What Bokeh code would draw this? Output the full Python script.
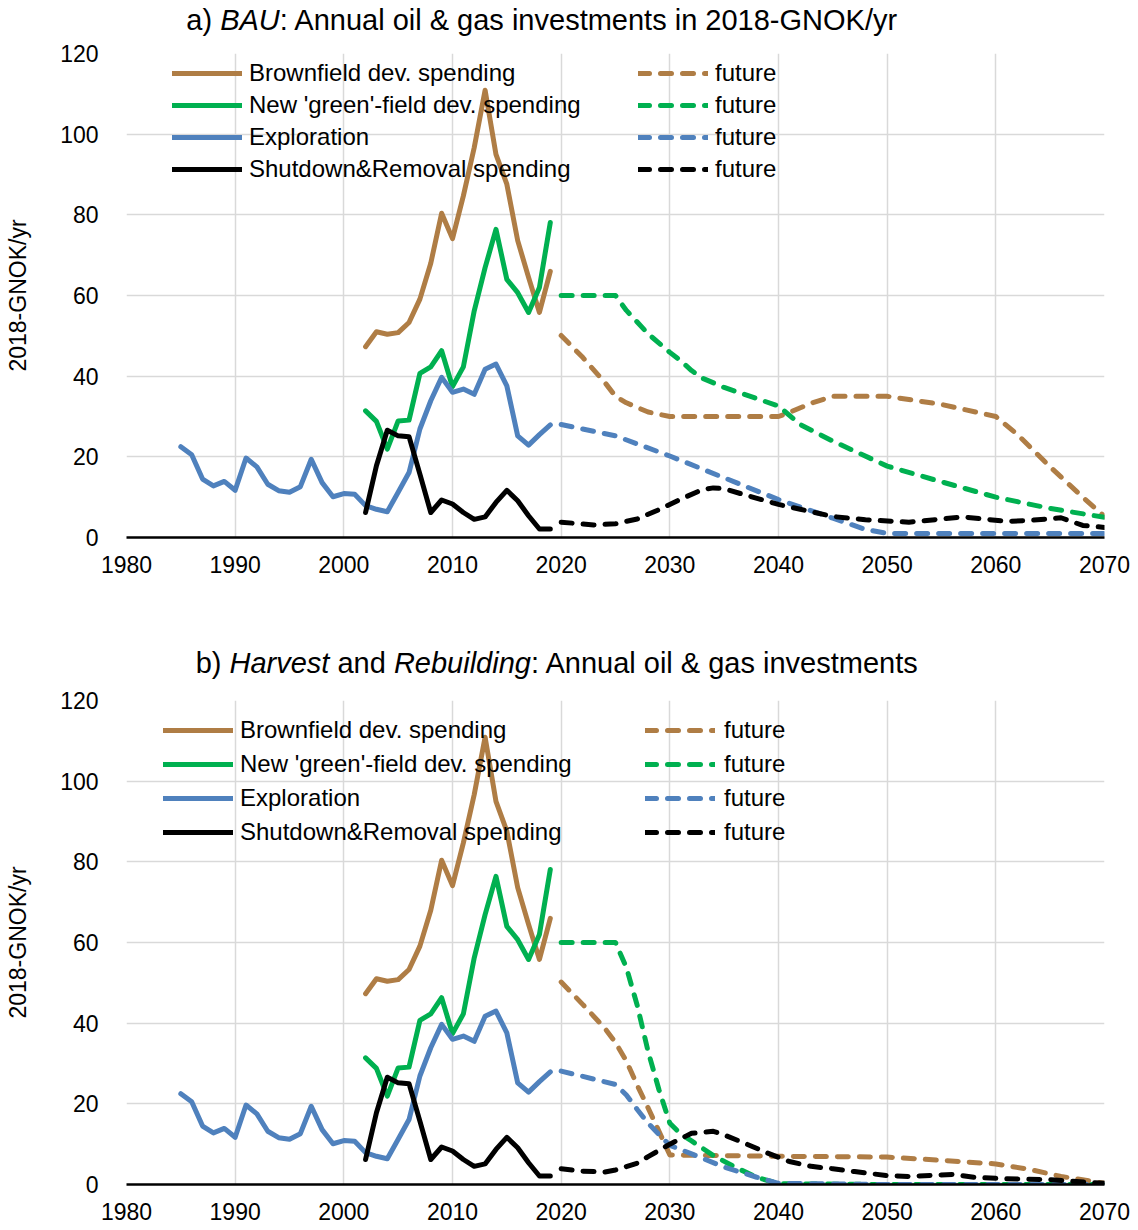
from bokeh.plotting import figure
from bokeh.models import Legend, LegendItem, Label, FixedTicker, Range1d
from bokeh.layouts import column
from bokeh.embed import file_html
from bokeh.resources import INLINE

# ---------------- data ----------------
expl_years = list(range(1985, 2020))
expl_vals = [22.5, 20.5, 14.5, 12.8, 13.9, 11.7, 19.7, 17.5, 13.2, 11.6, 11.2, 12.6,
             19.4, 13.6, 10.1, 10.9, 10.7, 7.9, 7.0, 6.4, 11.2, 16.1, 26.9, 33.9,
             39.7, 36.0, 36.8, 35.5, 41.7, 43.0, 37.6, 25.2, 22.9, 25.5, 27.9]

dev_years = list(range(2002, 2020))
brown_vals = [47.3, 51.0, 50.4, 50.8, 53.3, 59.1, 68.0, 80.4, 74.1, 84.7, 96.7, 110.9,
              95.0, 87.6, 73.6, 64.5, 55.8, 66.0]
green_vals = [31.4, 28.8, 21.9, 28.9, 29.1, 40.7, 42.3, 46.3, 37.4, 42.3, 56.2, 66.9,
              76.4, 64.0, 60.7, 55.8, 62.0, 78.1]
black_vals = [6.2, 17.8, 26.6, 25.2, 25.0, 15.7, 6.2, 9.3, 8.3, 6.2, 4.5, 5.1,
              8.7, 11.7, 9.1, 5.4, 2.1, 2.1]

# BAU future
bau_brown_years = [2020, 2022, 2024, 2025, 2026, 2028, 2030, 2035, 2040, 2041, 2043, 2045,
                   2050, 2055, 2060, 2062, 2065, 2068, 2070]
bau_brown = [50.1, 44.6, 38.5, 35.0, 33.4, 31.1, 30.0, 30.0, 30.0, 31.0, 33.3, 35.0,
             35.0, 33.0, 30.0, 25.5, 17.5, 10.0, 5.2]
bau_green_years = [2020, 2025, 2026, 2028, 2030, 2031, 2032, 2033, 2035, 2040, 2042,
                   2045, 2050, 2055, 2060, 2065, 2070]
bau_green = [60.0, 60.0, 56.3, 50.5, 45.9, 43.8, 41.4, 39.5, 37.2, 32.6, 28.0,
             23.9, 17.7, 13.8, 10.0, 7.2, 5.0]
bau_blue_years = [2020, 2025, 2030, 2035, 2040, 2045, 2048, 2050, 2060, 2070]
bau_blue = [28.0, 25.2, 20.2, 14.8, 9.4, 4.8, 2.0, 1.0, 1.0, 1.0]
bau_black_years = [2020, 2023, 2025, 2027, 2029, 2031, 2033, 2034, 2035, 2037, 2040,
                   2042, 2045, 2048, 2052, 2057, 2061, 2063, 2066, 2068, 2070]
bau_black = [3.8, 3.1, 3.4, 4.6, 6.9, 9.5, 11.9, 12.3, 12.1, 10.5, 8.2,
             7.0, 5.2, 4.4, 3.8, 5.1, 4.0, 4.2, 4.9, 3.0, 2.5]

# Harvest & Rebuilding future
hr_brown_years = [2020, 2022, 2024, 2025, 2026, 2027, 2028, 2029, 2030, 2040, 2050,
                  2055, 2060, 2063, 2066, 2070]
hr_brown = [50.2, 44.6, 38.8, 35.2, 30.6, 24.6, 19.0, 13.2, 7.3, 7.0, 6.8,
            6.0, 5.1, 3.8, 2.0, 0.3]
hr_green_years = [2020, 2025, 2026, 2027, 2028, 2029, 2030, 2031, 2032, 2034, 2036,
                  2038, 2040, 2050, 2060, 2070]
hr_green = [60.0, 60.0, 53.8, 44.4, 33.0, 23.5, 15.2, 12.5, 10.8, 7.2, 4.3,
            1.8, 0.2, 0.0, 0.0, 0.0]
hr_blue_years = [2020, 2022, 2025, 2026, 2027, 2028, 2029, 2030, 2032, 2035, 2038,
                 2040, 2050, 2060, 2070]
hr_blue = [28.1, 26.8, 24.8, 22.2, 18.6, 15.2, 12.4, 9.7, 7.6, 4.3, 1.8,
           0.3, 0.0, 0.0, 0.0]
hr_black_years = [2020, 2022, 2024, 2025, 2027, 2028, 2030, 2032, 2034, 2035, 2037,
                  2039, 2041, 2043, 2045, 2047, 2050, 2052, 2056, 2058, 2061, 2065,
                  2067, 2070]
hr_black = [3.9, 3.3, 3.1, 3.6, 5.3, 6.9, 10.0, 12.7, 13.2, 12.3, 10.1,
            7.8, 5.7, 4.5, 3.9, 3.2, 2.2, 2.0, 2.5, 1.8, 1.4, 1.2, 0.8, 0.3]

series_labels = ["Brownfield dev. spending", "New 'green'-field dev. spending",
                 "Exploration", "Shutdown&Removal spending"]
future_label = "future"
x_ticks = [1980, 1990, 2000, 2010, 2020, 2030, 2040, 2050, 2060, 2070]
y_ticks = [0, 20, 40, 60, 80, 100, 120]
y_label = "2018-GNOK/yr"

title_a = [("a) ", "normal"), ("BAU", "italic"),
           (": Annual oil & gas investments in 2018-GNOK/yr", "normal")]
title_b = [("b) ", "normal"), ("Harvest", "italic"), (" and ", "normal"),
           ("Rebuilding", "italic"), (": Annual oil & gas investments", "normal")]

# ---------------- style ----------------
C_BROWN = "#AF7D45"
C_GREEN = "#00B050"
C_BLUE = "#4F81BD"
C_BLACK = "#000000"
FONT = "Liberation Sans"
LW = 5
DASH = "11 11"
W = 1138
BL, BR = 126, 34   # left / right borders -> frame page x 126..1104

# Arial / Liberation Sans advance widths (per 1000 em) for laying out title pieces
AW = {' ': 278, 'a': 556, ')': 333, '(': 333, ':': 278, 'A': 667, 'n': 556, 'u': 556,
      'l': 222, 'o': 556, 'i': 222, '&': 667, 'g': 556, 's': 500, 'v': 500, 'e': 556,
      't': 278, 'm': 833, '2': 556, '0': 556, '1': 556, '8': 556, '-': 333, 'G': 778,
      'N': 722, 'O': 778, 'K': 667, '/': 278, 'y': 500, 'r': 333, 'B': 667, 'U': 722,
      'H': 722, 'd': 556, 'R': 722, 'b': 556}


def text_w(s, size):
    return sum(AW.get(c, 556) for c in s) * size / 1000.0


def title_fig(height, parts, center_page_x, base_y, size=29):
    t = figure(width=W, height=height, output_backend="svg", toolbar_location=None,
               x_range=Range1d(0, W - BL - BR), y_range=Range1d(0, height),
               x_axis_location=None, y_axis_location=None,
               min_border_left=BL, min_border_right=BR, min_border_top=0,
               min_border_bottom=0)
    t.outline_line_color = None
    t.grid.visible = False
    total = sum(text_w(s, size) for s, _ in parts)
    x = center_page_x - BL - total / 2.0
    for s, style in parts:
        lead = len(s) - len(s.lstrip(" "))
        core = s.strip(" ")
        t.add_layout(Label(x=x + text_w(" " * lead, size), y=base_y,
                           x_units="screen", y_units="screen", text=core,
                           text_font=FONT, text_font_size=f"{size}px",
                           text_font_style=style, text_color="black",
                           text_align="left", text_baseline="alphabetic"))
        x += text_w(s, size)
    return t


def make_fig(height, top_border, bottom_border):
    p = figure(width=W, height=height, output_backend="svg", toolbar_location=None,
               x_range=Range1d(1980, 2070), y_range=Range1d(0, 120),
               min_border_left=BL, min_border_right=BR,
               min_border_top=top_border, min_border_bottom=bottom_border)
    p.outline_line_color = None
    for g in (p.xgrid, p.ygrid):
        g.grid_line_color = "#D9D9D9"
        g.grid_line_width = 1.5
    p.xaxis.ticker = FixedTicker(ticks=x_ticks)
    p.yaxis.ticker = FixedTicker(ticks=y_ticks)
    p.xgrid.ticker = FixedTicker(ticks=x_ticks)
    p.ygrid.ticker = FixedTicker(ticks=y_ticks)
    for ax in (p.xaxis, p.yaxis):
        ax.major_tick_line_color = None
        ax.minor_tick_line_color = None
        ax.major_label_text_font = FONT
        ax.major_label_text_font_size = "23px"
        ax.major_label_text_color = "black"
    p.xaxis.axis_line_color = "black"
    p.xaxis.axis_line_width = 2.5
    p.xaxis.major_label_standoff = 12
    p.yaxis.axis_line_color = None
    p.yaxis.major_label_standoff = 22
    p.yaxis.axis_label = y_label
    p.yaxis.axis_label_text_font = FONT
    p.yaxis.axis_label_text_font_size = "23px"
    p.yaxis.axis_label_text_font_style = "normal"
    p.yaxis.axis_label_text_color = "black"
    p.yaxis.axis_label_standoff = 26
    return p


def build(p, fut, leg_solid_xy, leg_fut_xy, row_h, fut_standoff):
    colors = [C_BROWN, C_GREEN, C_BLUE, C_BLACK]
    hist = [(dev_years, brown_vals), (dev_years, green_vals),
            (expl_years, expl_vals), (dev_years, black_vals)]
    solid_r, dash_r = [], []
    for (fx, fy), c in zip(fut, colors):
        dash_r.append(p.line(fx, fy, line_color=c, line_width=LW, line_dash=DASH,
                             line_cap="round", line_join="round"))
    for (hx, hy), c in zip(hist, colors):
        solid_r.append(p.line(hx, hy, line_color=c, line_width=LW,
                              line_join="round", line_cap="round"))
    common = dict(border_line_alpha=0, background_fill_alpha=0, padding=0, margin=0,
                  spacing=0, glyph_width=70, glyph_height=row_h, label_height=row_h,
                  label_text_font=FONT, label_text_font_size="24px",
                  label_text_color="black")
    leg1 = Legend(items=[LegendItem(label=l, renderers=[r]) for l, r in zip(series_labels, solid_r)],
                  location=leg_solid_xy, label_standoff=7, **common)
    leg2 = Legend(items=[LegendItem(label=future_label, renderers=[r]) for r in dash_r],
                  location=leg_fut_xy, label_standoff=fut_standoff, **common)
    p.add_layout(leg1)
    p.add_layout(leg2)


# page layout: title a 0..39, chart a 39..640 (frame 53..537),
# title b 640..682, chart b 682..1230 (frame 700..1184)
t1 = title_fig(39, title_a, 542, 20)
p1 = make_fig(601, 14, 103)
build(p1, [(bau_brown_years, bau_brown), (bau_green_years, bau_green),
           (bau_blue_years, bau_blue), (bau_black_years, bau_black)],
      (46, 352), (512, 352), 32, 7)

t2 = title_fig(42, title_b, 557, 20)
p2 = make_fig(548, 18, 46)
build(p2, [(hr_brown_years, hr_brown), (hr_green_years, hr_green),
           (hr_blue_years, hr_blue), (hr_black_years, hr_black)],
      (37, 335), (519, 335), 34, 9)

layout = column(t1, p1, t2, p2, spacing=0)
open("out.html", "w").write(file_html(layout, INLINE))
